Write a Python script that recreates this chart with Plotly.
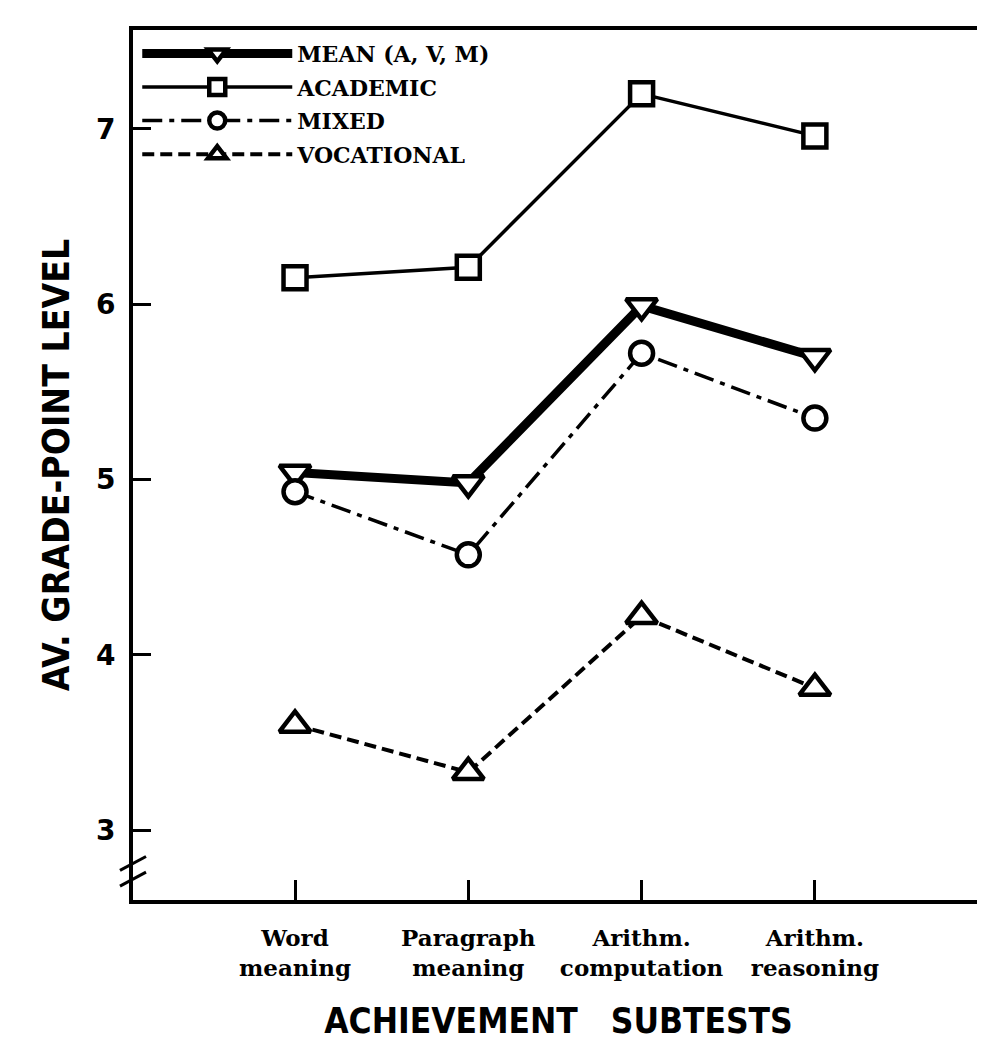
import plotly.graph_objects as go

# ---- data ----
subtests = ["Word<br>meaning", "Paragraph<br>meaning", "Arithm.<br>computation", "Arithm.<br>reasoning"]
mean_avm = [5.04, 4.98, 5.99, 5.70]
academic = [6.15, 6.21, 7.20, 6.96]
mixed = [4.93, 4.57, 5.72, 5.35]
vocational = [3.60, 3.33, 4.22, 3.81]
series_names = ["MEAN (A, V, M)", "ACADEMIC", "MIXED", "VOCATIONAL"]
y_ticks = [3, 4, 5, 6, 7]

# ---- styles ----
styles = [
    dict(symbol="triangle-down", size=27, lw=9, dash="solid"),
    dict(symbol="square", size=23, lw=3.5, dash="solid"),
    dict(symbol="circle", size=23, lw=3.5, dash="20px,7px,5px,7px"),
    dict(symbol="triangle-up", size=27, lw=4, dash="12px,6px"),
]
series = [mean_avm, academic, mixed, vocational]

fig = go.Figure()
for name, vals, st in zip(series_names, series, styles):
    fig.add_trace(go.Scatter(
        x=subtests, y=vals, name=name, mode="lines+markers",
        legendgroup=name,
        line=dict(color="black", width=st["lw"], dash=st["dash"]),
        marker=dict(symbol=st["symbol"], size=st["size"], color="white",
                    line=dict(color="black", width=4.5)),
        cliponaxis=False,
    ))

serif = "DejaVu Serif, Liberation Serif, serif"
cond = "DejaVu Sans Condensed, Liberation Sans Narrow, DejaVu Sans, sans-serif"

fig.update_layout(
    width=985, height=1056,
    margin=dict(l=125, r=9, t=22, b=164),
    plot_bgcolor="white", paper_bgcolor="white",
    showlegend=True,
    legend=dict(x=0.005, y=0.997, xanchor="left", yanchor="top",
                bgcolor="rgba(0,0,0,0)", tracegroupgap=2, itemwidth=150,
                font=dict(family=serif, size=22, color="black", weight="bold")),
)

fig.update_xaxes(
    type="category", range=[-0.935, 3.976],
    showgrid=False, zeroline=False,
    showline=True, linecolor="black", linewidth=4, mirror=True,
    ticks="inside", ticklen=20, tickwidth=3, tickcolor="black",
    ticklabelstandoff=14,
    tickfont=dict(family=serif, size=23, color="black", weight="bold"),
    title=dict(text="ACHIEVEMENT&nbsp;&nbsp;&nbsp;SUBTESTS", standoff=30,
               font=dict(family=cond, size=35, color="black", weight="bold")),
)
fig.update_yaxes(
    range=[2.601, 7.564], tickvals=y_ticks,
    showgrid=False, zeroline=False,
    showline=True, linecolor="black", linewidth=4,
    ticks="inside", ticklen=18, tickwidth=3, tickcolor="black",
    ticklabelstandoff=8,
    tickfont=dict(family="DejaVu Sans, sans-serif", size=28, color="black", weight="bold"),
    title=dict(text="AV. GRADE-POINT LEVEL", standoff=16,
               font=dict(family=cond, size=37, color="black", weight="bold")),
)

# right border (partial, as in the scan) and y-axis break marks
fig.add_shape(type="line", xref="paper", yref="paper", x0=1, x1=1, y0=0.46, y1=1,
              line=dict(color="black", width=4))
for y0, y1 in [(0.034, 0.050), (0.016, 0.032)]:
    fig.add_shape(type="line", xref="paper", yref="paper", x0=-0.0153, x1=0.0153,
                  y0=y0, y1=y1, line=dict(color="black", width=3))

fig.write_html("out.html")
